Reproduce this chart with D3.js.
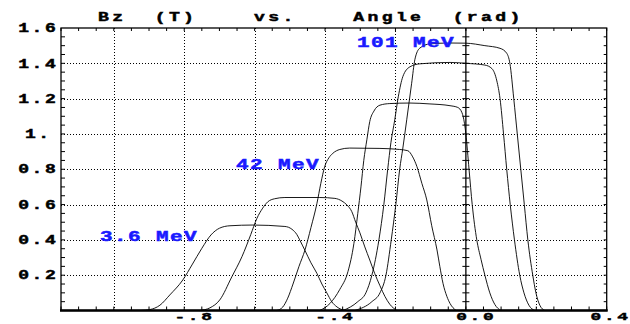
<!DOCTYPE html>
<html><head><meta charset="utf-8">
<script src="https://cdn.jsdelivr.net/npm/d3@7"></script>
<style>body{margin:0;background:#fff} svg{display:block}</style>
</head><body><svg id="c" width="630" height="324"></svg>
<script>
// ---------- data ----------
const titleText = "Bz  (T)    vs.    Angle  (rad)";
const xTickValues = [-0.8, -0.4, 0.0, 0.4];
const xTickLabels = ["-.8", "-.4", "0.0", "0.4"];
const yTickValues = [0.2, 0.4, 0.6, 0.8, 1.0, 1.2, 1.4, 1.6];
const yTickLabels = ["0.2", "0.4", "0.6", "0.8", "1.", "1.2", "1.4", "1.6"];
const xGridValues = [-1.0, -0.8, -0.6, -0.4, -0.2, 0.2];
const yGridValues = [0.2, 0.4, 0.6, 0.8, 1.0, 1.2, 1.4];
const energyLabels = ["3.6 MeV", "42 MeV", "101 MeV"];

const angle1 = [-0.923,-0.898,-0.869,-0.841,-0.804,-0.778,-0.750,-0.724,-0.700,-0.670,-0.605,-0.514,-0.494,-0.480,-0.472,-0.457,-0.440,-0.423,-0.409,-0.395,-0.381,-0.366,-0.344];
const bz1    = [0,0.005,0.03,0.088,0.173,0.258,0.352,0.428,0.466,0.48,0.484,0.476,0.46,0.43,0.40,0.34,0.27,0.21,0.15,0.10,0.05,0.02,0];

const angle2 = [-0.756,-0.727,-0.699,-0.665,-0.636,-0.611,-0.594,-0.577,-0.563,-0.543,-0.514,-0.415,-0.372,-0.352,-0.338,-0.324,-0.313,-0.301,-0.287,-0.273,-0.259,-0.244,-0.230,-0.216,-0.196];
const bz2    = [0,0.015,0.06,0.19,0.305,0.43,0.52,0.58,0.615,0.633,0.64,0.64,0.635,0.62,0.598,0.56,0.5,0.44,0.36,0.286,0.21,0.14,0.08,0.035,0];

const angle3 = [-0.537,-0.520,-0.506,-0.491,-0.474,-0.457,-0.440,-0.423,-0.412,-0.401,-0.389,-0.378,-0.358,-0.330,-0.244,-0.188,-0.165,-0.151,-0.139,-0.125,-0.111,-0.097,-0.082,-0.074,-0.065,-0.054,-0.045,-0.028];
const bz3    = [0,0.02,0.07,0.15,0.25,0.343,0.47,0.607,0.72,0.815,0.865,0.89,0.912,0.92,0.918,0.912,0.905,0.87,0.815,0.72,0.626,0.48,0.343,0.25,0.154,0.08,0.04,0];

const angle4 = [-0.415,-0.386,-0.358,-0.335,-0.318,-0.307,-0.298,-0.290,-0.281,-0.273,-0.261,-0.244,-0.216,-0.159,-0.102,-0.045,-0.023,-0.011,-0.004,0,0.009,0.018,0.031,0.043,0.054,0.068,0.082,0.099];
const bz4    = [0,0.04,0.12,0.22,0.38,0.55,0.7,0.85,0.97,1.07,1.13,1.163,1.172,1.175,1.17,1.16,1.15,1.12,1.06,1.0,0.8,0.6,0.4,0.29,0.2,0.1,0.035,0];

const angle5 = [-0.349,-0.307,-0.284,-0.267,-0.247,-0.233,-0.222,-0.213,-0.202,-0.192,-0.179,-0.159,-0.131,-0.045,0,0.054,0.074,0.088,0.097,0.107,0.116,0.126,0.138,0.153,0.165,0.179,0.196];
const bz5    = [0,0.05,0.1,0.2,0.4,0.6,0.8,0.95,1.08,1.21,1.325,1.38,1.397,1.405,1.40,1.39,1.37,1.3,1.2,1.0,0.8,0.6,0.4,0.2,0.1,0.03,0];

const angle6 = [-0.315,-0.267,-0.244,-0.227,-0.212,-0.199,-0.188,-0.179,-0.168,-0.154,-0.145,-0.131,-0.102,-0.045,0,0.054,0.097,0.116,0.125,0.136,0.146,0.156,0.166,0.176,0.190,0.199,0.210,0.224];
const bz6    = [0,0.05,0.1,0.2,0.4,0.6,0.8,0.92,1.08,1.287,1.42,1.486,1.51,1.515,1.514,1.50,1.485,1.457,1.40,1.2,1.0,0.8,0.6,0.4,0.2,0.1,0.03,0];

// ---------- drawing ----------
const svg = d3.select("#c");
const W = 630;
const L = 61, R = 606.7, T = 28, B = 310.5;
const x = d3.scaleLinear().domain([-1.15, 0.4]).range([L, R]);
const y = d3.scaleLinear().domain([0, 1.6]).range([B, T]);
const FONT = "'Courier New', 'Liberation Mono', 'DejaVu Sans Mono', monospace";

function blockWidth(str, opt) {
  const adv = 0.6 * opt.size, cell = opt.pitch / opt.sx, ls = cell - adv;
  return (str.length * cell - ls) * opt.sx;
}
function monoText(g, str, px, py, opt) {
  const fs = opt.size, sx = opt.sx, pitch = opt.pitch;
  const adv = 0.6 * fs;
  const cell = pitch / sx;
  const ls = cell - adv;
  const blockW = blockWidth(str, opt);
  const x0 = opt.anchor === "middle" ? px - blockW / 2 : px;
  const col = opt.fill || "#000";
  return g.append("text")
    .attr("transform", `translate(${x0},${py}) scale(${sx},1)`)
    .attr("font-family", FONT).attr("font-size", fs).attr("font-weight", "bold")
    .attr("letter-spacing", ls).style("white-space", "pre")
    .attr("fill", col).attr("stroke", col).attr("stroke-width", opt.sw || 0.45)
    .text(str);
}

// grid
const grid = svg.append("g").attr("stroke", "#000").attr("stroke-width", 1)
  .attr("stroke-dasharray", "1,2").attr("shape-rendering", "crispEdges");
grid.selectAll(".gx").data(xGridValues).join("line")
  .attr("x1", d => Math.round(x(d)) + 0.5).attr("x2", d => Math.round(x(d)) + 0.5)
  .attr("y1", T).attr("y2", B);
grid.selectAll(".gy").data(yGridValues).join("line")
  .attr("y1", d => Math.round(y(d)) + 0.5).attr("y2", d => Math.round(y(d)) + 0.5)
  .attr("x1", L).attr("x2", R);

// minor tick values
const xMinor = d3.range(-23, 9).map(i => i * 0.05);
const yMinor = d3.range(1, 32).map(i => i * 0.05);

const ax = svg.append("g").attr("stroke", "#000").attr("stroke-width", 1).attr("fill", "none");
ax.selectAll(".tb").data(xMinor).join("line")
  .attr("x1", d => x(d)).attr("x2", d => x(d)).attr("y1", B).attr("y2", B - 4);
ax.selectAll(".tt").data(xMinor).join("line")
  .attr("x1", d => x(d)).attr("x2", d => x(d)).attr("y1", T).attr("y2", T + 3);
ax.selectAll(".tl").data(yMinor).join("line")
  .attr("y1", d => y(d)).attr("y2", d => y(d)).attr("x1", L).attr("x2", L + 4);
ax.selectAll(".tr").data(yMinor).join("line")
  .attr("y1", d => y(d)).attr("y2", d => y(d)).attr("x1", R).attr("x2", R - 3);
ax.append("line").attr("x1", x(0)).attr("x2", x(0)).attr("y1", T).attr("y2", B).attr("stroke-width", 1.3);
ax.selectAll(".ta").data(yMinor).join("line")
  .attr("y1", d => y(d)).attr("y2", d => y(d)).attr("x1", x(0) - 3.5).attr("x2", x(0) + 3.5);

// frame
svg.append("rect").attr("x", L).attr("y", T).attr("width", R - L).attr("height", B - T)
  .attr("fill", "none").attr("stroke", "#000").attr("stroke-width", 1.3);
svg.append("line").attr("x1", L - 1).attr("x2", R + 1).attr("y1", B).attr("y2", B)
  .attr("stroke", "#000").attr("stroke-width", 2.6);

// curves
const curves = [[angle1, bz1], [angle2, bz2], [angle3, bz3], [angle4, bz4], [angle5, bz5], [angle6, bz6]];
const line = d3.line().x(d => x(d[0])).y(d => y(d[1])).curve(d3.curveMonotoneX);
svg.append("g").selectAll("path").data(curves).join("path")
  .attr("d", c => line(d3.zip(c[0], c[1])))
  .attr("fill", "none").attr("stroke", "#000").attr("stroke-width", 0.9);

// tick labels
const lab = svg.append("g");
const yOpt = {size: 12, sx: 1.5, pitch: 13.4, anchor: "middle"};
yTickValues.forEach((v, i) => {
  monoText(lab, yTickLabels[i], 37, y(v) + 4.2, yOpt);
});
const xOpt = {size: 11.5, sx: 1.55, pitch: 13.4, anchor: "middle"};
xTickValues.forEach((v, i) => {
  const bw = blockWidth(xTickLabels[i], xOpt);
  const cx = Math.min(x(v) + 9, W - bw / 2 - 2);
  monoText(lab, xTickLabels[i], cx, 320, xOpt);
});

// title
monoText(svg, titleText, 98, 21, {size: 12.5, sx: 1.45, pitch: 14.2});

// energy labels
monoText(svg, energyLabels[0], 100, 240.8, {size: 15, sx: 1.4, pitch: 14, fill: "#1a1aff", sw: 0.5});
monoText(svg, energyLabels[1], 236, 169.3, {size: 15, sx: 1.4, pitch: 14, fill: "#1a1aff", sw: 0.5});
monoText(svg, energyLabels[2], 357, 46.7, {size: 15, sx: 1.4, pitch: 14, fill: "#1a1aff", sw: 0.5});
</script>
</body></html>
